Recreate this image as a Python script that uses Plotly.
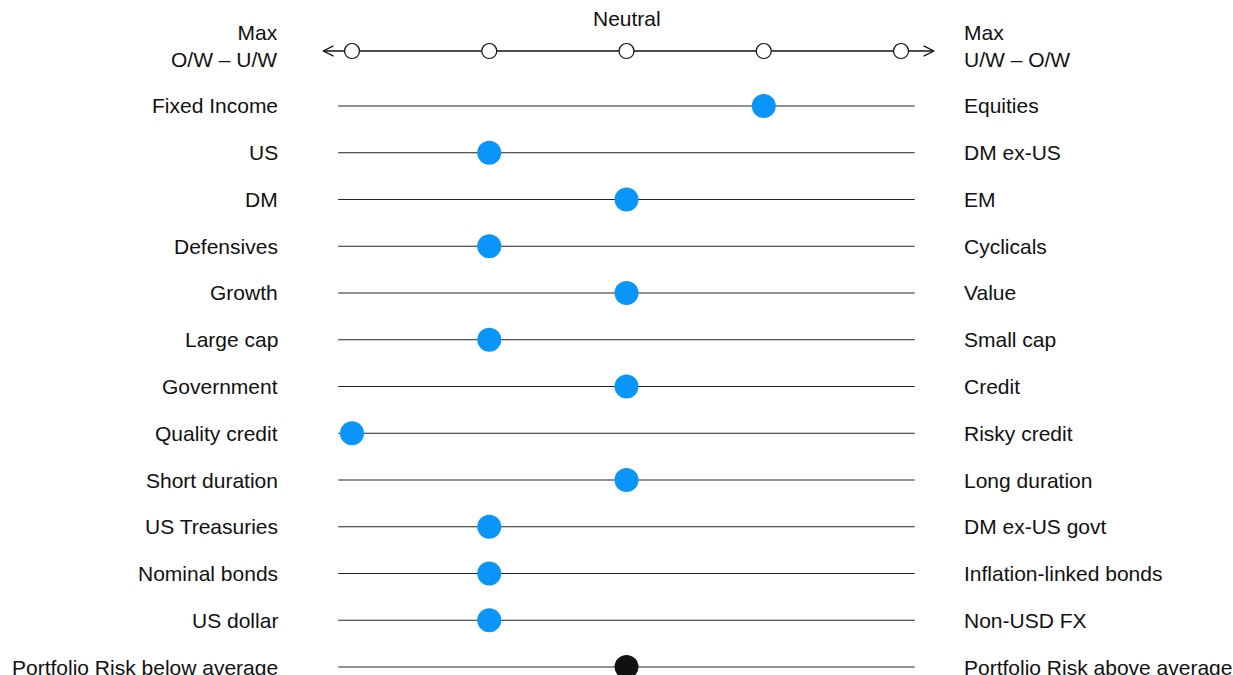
import plotly.graph_objects as go

left_labels = ["Fixed Income", "US", "DM", "Defensives", "Growth", "Large cap", "Government",
               "Quality credit", "Short duration", "US Treasuries", "Nominal bonds", "US dollar",
               "Portfolio Risk below average"]
right_labels = ["Equities", "DM ex-US", "EM", "Cyclicals", "Value", "Small cap", "Credit",
                "Risky credit", "Long duration", "DM ex-US govt", "Inflation-linked bonds", "Non-USD FX",
                "Portfolio Risk above average"]
scores = [1, -1, 0, -1, 0, -1, 0, -2, 0, -1, -1, -1, 0]
dot_colors = ["#0A96F8"] * 12 + ["#111111"]
scale_ticks = [-2, -1, 0, 1, 2]

FONT = "Liberation Sans, Arial, sans-serif"
n = len(left_labels)
rows = list(range(n))
top_y = -1.176

fig = go.Figure()

# row lines
for i in rows:
    fig.add_trace(go.Scatter(x=[-2.10, 2.10], y=[i, i], mode="lines",
                             line=dict(color="#222222", width=1), hoverinfo="skip", showlegend=False))

# top scale line
fig.add_trace(go.Scatter(x=[-2.21, 2.24], y=[top_y, top_y], mode="lines",
                         line=dict(color="#111111", width=1.6), hoverinfo="skip", showlegend=False))
# chevrons
dx, dy = 0.075, 0.11
for end, sgn in [(-2.21, 1), (2.24, -1)]:
    fig.add_trace(go.Scatter(x=[end + sgn * dx, end, end + sgn * dx], y=[top_y - dy, top_y, top_y + dy],
                             mode="lines", line=dict(color="#111111", width=1.3),
                             hoverinfo="skip", showlegend=False))
# open circles on scale
fig.add_trace(go.Scatter(x=scale_ticks, y=[top_y] * len(scale_ticks), mode="markers",
                         marker=dict(size=15, color="white", line=dict(color="#111111", width=1.2)),
                         hoverinfo="skip", showlegend=False))

# position dots
fig.add_trace(go.Scatter(x=scores, y=rows, mode="markers",
                         marker=dict(size=24, color=dot_colors, line=dict(width=0)),
                         hoverinfo="skip", showlegend=False))

LX, RX = -2.524, 2.445
ann = []
for i in rows:
    ann.append(dict(x=LX, y=i, text=left_labels[i], xanchor="right", yanchor="middle",
                    showarrow=False, font=dict(size=21, color="#111111", family=FONT)))
    ann.append(dict(x=RX, y=i, text=right_labels[i], xanchor="left", yanchor="middle",
                    showarrow=False, font=dict(size=21, color="#111111", family=FONT)))
ann.append(dict(x=LX, y=top_y - 0.11, text="Max<br>O/W – U/W", xanchor="right", yanchor="middle",
                align="right", showarrow=False, font=dict(size=21, color="#111111", family=FONT)))
ann.append(dict(x=RX, y=top_y - 0.11, text="Max<br>U/W – O/W", xanchor="left", yanchor="middle",
                align="left", showarrow=False, font=dict(size=21, color="#111111", family=FONT)))
ann.append(dict(x=0, y=-1.87, text="Neutral", xanchor="center", yanchor="middle",
                showarrow=False, font=dict(size=21, color="#111111", family=FONT)))

fig.update_layout(
    width=1233, height=675,
    margin=dict(l=0, r=0, t=0, b=0),
    paper_bgcolor="white", plot_bgcolor="white",
    xaxis=dict(range=[-4.5647, 4.4189], visible=False, fixedrange=True),
    yaxis=dict(range=[12.171, -2.267], visible=False, fixedrange=True),
    annotations=ann,
    showlegend=False,
)

fig.write_html("out.html", config={"displayModeBar": False},
               post_script="document.body.style.margin='0';document.body.style.overflow='hidden';")
